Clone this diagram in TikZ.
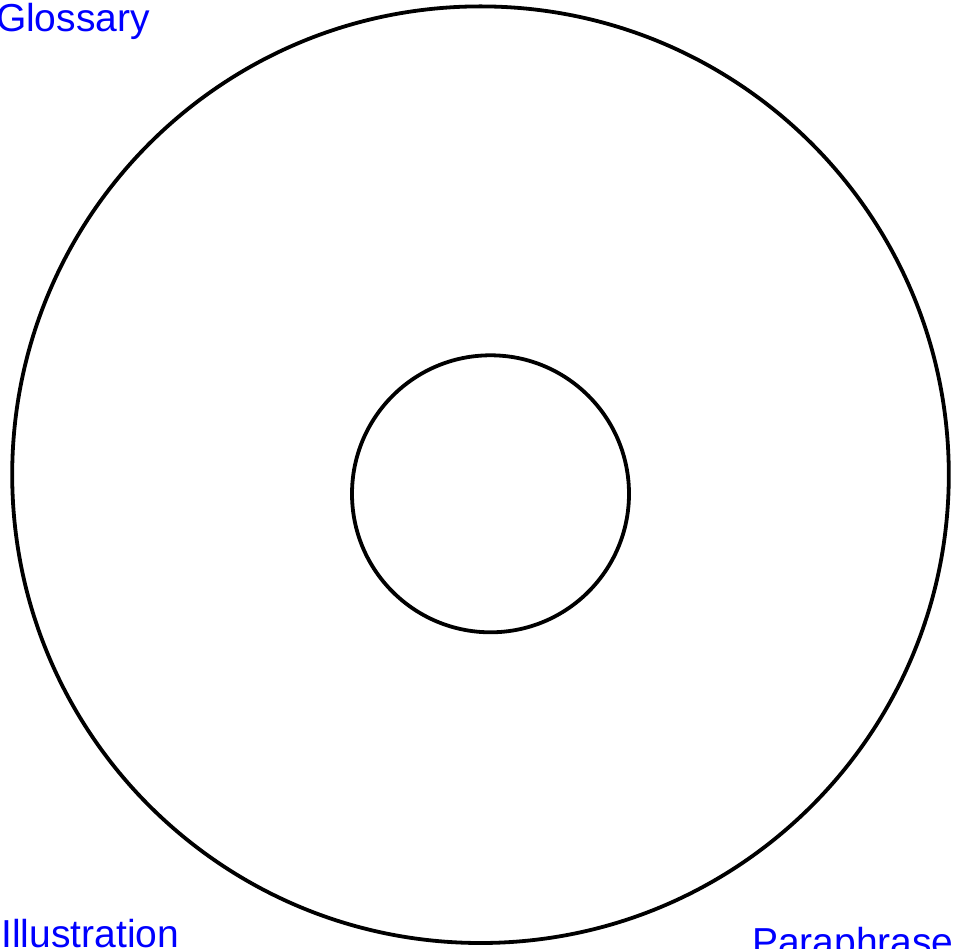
\documentclass[tikz,border=0pt]{standalone}
\usepackage{fontspec}
\setmainfont{Liberation Sans}
\begin{document}
\begin{tikzpicture}[x=1pt,y=-1pt,
  ring/.style={draw=black,line width=3.8pt},
  lbl/.style={anchor=base west,inner sep=0pt,outer sep=0pt,text=blue,font=\fontsize{39}{41}\selectfont}]
\path[use as bounding box] (0,0) rectangle (954,949);
\node[ring,circle,minimum size=936.6pt,inner sep=0pt] (outer) at (480.5,474.7) {};
\node[ring,circle,minimum size=277pt,inner sep=0pt] (inner) at (490.5,493.8) {};
\node[lbl] (glossary) at (-4,32) {Glossary};
\node[lbl] (illus) at (1.5,947) {Illustration};
\node[lbl] (para) at (752,955) {Paraphrase};
\end{tikzpicture}
\end{document}
